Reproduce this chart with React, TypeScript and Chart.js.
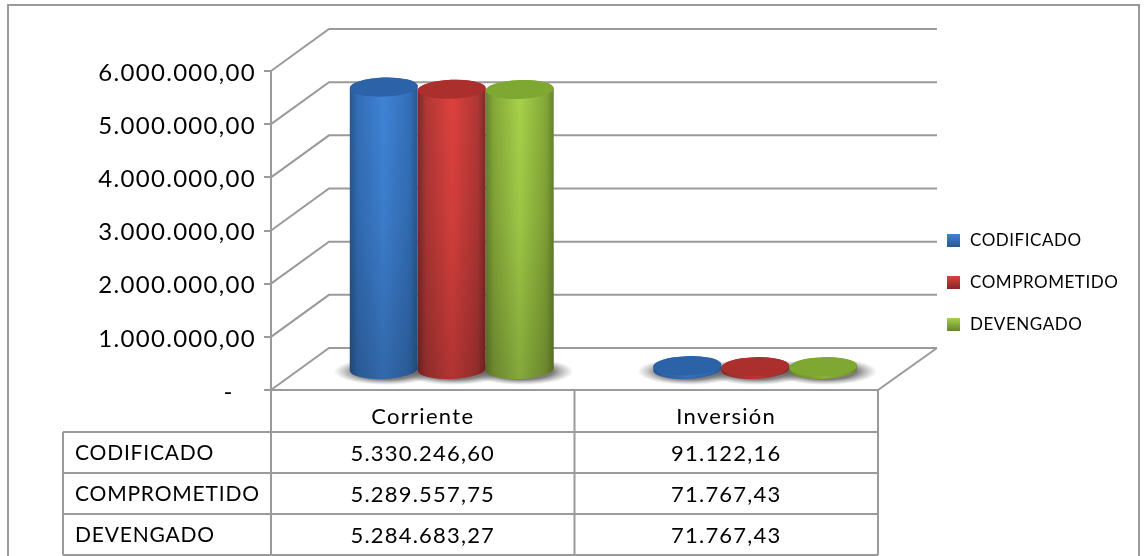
import React, { useEffect, useRef } from "react";
import { Chart, registerables } from "chart.js";

Chart.register(...registerables);

const categories = ["Corriente", "Inversión"];
const seriesNames = ["CODIFICADO", "COMPROMETIDO", "DEVENGADO"];
const codificado = [5330246.6, 91122.16];
const comprometido = [5289557.75, 71767.43];
const devengado = [5284683.27, 71767.43];
const seriesValues = [codificado, comprometido, devengado];
const baseColors = ["#3a7bc8", "#c8383a", "#93bd3c"];
const yTicks = { max: 6000000, step: 1000000 };

const FONT = "Lato, Carlito, sans-serif";
const GRAY = "#9a9a9a";
const TEXT = "#000000";

const shades = [
  { edge: "#336fb8", mid: "#3f83d6", top: "#2b62a8", edgeLow: "#27588f" },
  { edge: "#b03735", mid: "#de413e", top: "#ab2f2d", edgeLow: "#832727" },
  { edge: "#86a838", mid: "#a6d24a", top: "#7fa832", edgeLow: "#66832e" },
];

const DX = 58;
const DY = 42;
const LIFT = 19.5;
const RY = 9.5;
const TILT = -0.035;

const fmt = (v: number) =>
  v.toLocaleString("de-DE", { minimumFractionDigits: 2, maximumFractionDigits: 2 });

const cylinderPlugin = {
  id: "cylinder3d",
  beforeDraw(chart: any) {
    const { ctx } = chart;
    ctx.letterSpacing = "1.3px";
    ctx.save();
    ctx.strokeStyle = GRAY;
    ctx.lineWidth = 2;
    ctx.beginPath();
    ctx.moveTo(8, 556);
    ctx.lineTo(8, 5);
    ctx.lineTo(1139, 5);
    ctx.lineTo(1139, 556);
    ctx.stroke();
    ctx.restore();
  },
  beforeDatasetsDraw(chart: any) {
    const { ctx, scales, chartArea } = chart;
    const y = scales.y;
    const { left, right, bottom } = chartArea;
    ctx.save();
    ctx.strokeStyle = GRAY;
    ctx.lineWidth = 2;
    y.ticks.forEach((t: any) => {
      const py = y.getPixelForValue(t.value);
      ctx.beginPath();
      ctx.moveTo(left, py);
      ctx.lineTo(left + DX, py - DY);
      ctx.lineTo(right + DX + 1, py - DY);
      ctx.stroke();
    });
    ctx.beginPath();
    ctx.moveTo(left, bottom);
    ctx.lineTo(right, bottom);
    ctx.lineTo(right + DX + 1, bottom - DY);
    ctx.stroke();
    ctx.restore();

    chart.data.datasets.forEach((_: any, di: number) => {
      const meta = chart.getDatasetMeta(di);
      meta.data.forEach((bar: any) => {
        const { x, base, width } = bar.getProps(["x", "base", "width"], true);
        const cx = x + DX / 2 + 2;
        const cy = base - LIFT + 2;
        ctx.save();
        ctx.translate(cx, cy);
        const r = width / 2 + 18;
        ctx.scale(1, (RY + 4) / r);
        const g = ctx.createRadialGradient(0, 0, r * 0.6, 0, 0, r);
        g.addColorStop(0, "rgba(70,70,70,0.7)");
        g.addColorStop(1, "rgba(120,120,120,0)");
        ctx.fillStyle = g;
        ctx.beginPath();
        ctx.arc(0, 0, r, 0, Math.PI * 2);
        ctx.fill();
        ctx.restore();
      });
    });
  },
  beforeDatasetDraw() {
    return false;
  },
  afterDatasetsDraw(chart: any) {
    const { ctx } = chart;
    chart.data.datasets.forEach((_: any, di: number) => {
      const c = shades[di];
      const meta = chart.getDatasetMeta(di);
      meta.data.forEach((bar: any) => {
        const { x, y, base, width } = bar.getProps(["x", "y", "base", "width"], true);
        const cx = x + DX / 2;
        const rx = width / 2;
        const topY = y - LIFT;
        const baseY = base - LIFT;
        ctx.save();
        ctx.beginPath();
        ctx.ellipse(cx, baseY, rx, RY, TILT, 0, Math.PI);
        ctx.ellipse(cx, topY, rx, RY, TILT, Math.PI, Math.PI * 2);
        ctx.closePath();
        ctx.clip();
        const gh = ctx.createLinearGradient(cx - rx, 0, cx + rx, 0);
        gh.addColorStop(0, c.edgeLow);
        gh.addColorStop(0.12, c.edge);
        gh.addColorStop(0.5, c.mid);
        gh.addColorStop(0.88, c.edge);
        gh.addColorStop(1, c.edgeLow);
        ctx.fillStyle = gh;
        ctx.fillRect(cx - rx - 2, topY - RY - 3, width + 4, baseY - topY + 2 * RY + 6);
        const gv = ctx.createLinearGradient(0, topY, 0, baseY + RY);
        gv.addColorStop(0, "rgba(0,0,0,0)");
        gv.addColorStop(0.45, "rgba(0,0,0,0.06)");
        gv.addColorStop(1, "rgba(0,0,0,0.2)");
        ctx.fillStyle = gv;
        ctx.fillRect(cx - rx - 2, topY - RY - 3, width + 4, baseY - topY + 2 * RY + 6);
        ctx.restore();
        ctx.beginPath();
        ctx.ellipse(cx, topY, rx, RY, TILT, 0, Math.PI * 2);
        ctx.fillStyle = c.top;
        ctx.fill();
      });
    });
  },
  afterDraw(chart: any) {
    const { ctx, scales, chartArea } = chart;
    const xs = scales.x;
    const { left, right, bottom } = chartArea;
    const mid = (left + right) / 2;
    const rowYs = [432, 473, 514, 555];
    ctx.save();
    ctx.strokeStyle = GRAY;
    ctx.lineWidth = 2;
    ctx.beginPath();
    [left, mid, right].forEach((x) => {
      ctx.moveTo(x, bottom);
      ctx.lineTo(x, rowYs[3]);
    });
    ctx.moveTo(63, rowYs[0]);
    ctx.lineTo(63, rowYs[3]);
    rowYs.forEach((ry) => {
      ctx.moveTo(63, ry);
      ctx.lineTo(right, ry);
    });
    ctx.stroke();

    ctx.fillStyle = TEXT;
    ctx.textBaseline = "middle";
    seriesNames.forEach((name, r) => {
      const cy = rowYs[r] + 21.5;
      ctx.textAlign = "left";
      ctx.font = `21px ${FONT}`;
      ctx.letterSpacing = "0.8px";
      ctx.fillText(name, 75, cy);
      ctx.textAlign = "center";
      ctx.font = `22px ${FONT}`;
      ctx.letterSpacing = "1.2px";
      seriesValues[r].forEach((v, c) => {
        ctx.fillText(fmt(v), xs.getPixelForValue(c), cy);
      });
    });

    const legendYs = [240, 282, 324];
    ctx.letterSpacing = "0.55px";
    ctx.font = `17px ${FONT}`;
    ctx.textAlign = "left";
    seriesNames.forEach((name, i) => {
      const ly = legendYs[i];
      const g = ctx.createLinearGradient(0, ly - 6, 0, ly + 7);
      g.addColorStop(0, shades[i].mid);
      g.addColorStop(1, shades[i].edgeLow);
      ctx.fillStyle = g;
      ctx.fillRect(947, ly - 6, 13, 13);
      ctx.fillStyle = TEXT;
      ctx.fillText(name, 970, ly + 1);
    });
    ctx.restore();
  },
};

export default function App() {
  const ref = useRef<HTMLCanvasElement | null>(null);
  useEffect(() => {
    const chart = new Chart(ref.current as HTMLCanvasElement, {
      type: "bar",
      data: {
        labels: categories,
        datasets: seriesNames.map((name, i) => ({
          label: name,
          data: seriesValues[i],
          backgroundColor: baseColors[i],
          categoryPercentage: 0.672,
          barPercentage: 1,
        })),
      },
      options: {
        animation: false,
        responsive: false,
        layout: { padding: { top: 71, right: 268, left: 0, bottom: 0 } },
        plugins: { legend: { display: false }, tooltip: { enabled: false } },
        scales: {
          x: {
            grid: { display: false },
            border: { display: false },
            afterFit: (s: any) => {
              s.height = 166;
            },
            ticks: {
              font: { family: FONT, size: 22 },
              color: TEXT,
              padding: 6,
              maxRotation: 0,
            },
          },
          y: {
            min: 0,
            max: yTicks.max,
            afterFit: (s: any) => {
              s.width = 271;
            },
            grid: {
              drawOnChartArea: false,
              color: GRAY,
              lineWidth: 2,
              tickLength: 7,
            },
            border: { color: GRAY, width: 2 },
            ticks: {
              stepSize: yTicks.step,
              padding: 8,
              labelOffset: 2,
              color: TEXT,
              font: { family: FONT, size: 24 },
              callback: (v: any) => (v === 0 ? "-   " : fmt(Number(v))),
            },
          },
        },
      },
      plugins: [cylinderPlugin],
    } as any);
    return () => chart.destroy();
  }, []);
  return (
    <div style={{ position: "absolute", left: 0, top: 0, width: 1146, height: 556, overflow: "hidden", background: "#fff" }}>
      <canvas
        ref={ref}
        width={1146}
        height={556}
        style={{ display: "block", width: 1146, height: 556, filter: "blur(0.35px)" }}
      />
    </div>
  );
}
